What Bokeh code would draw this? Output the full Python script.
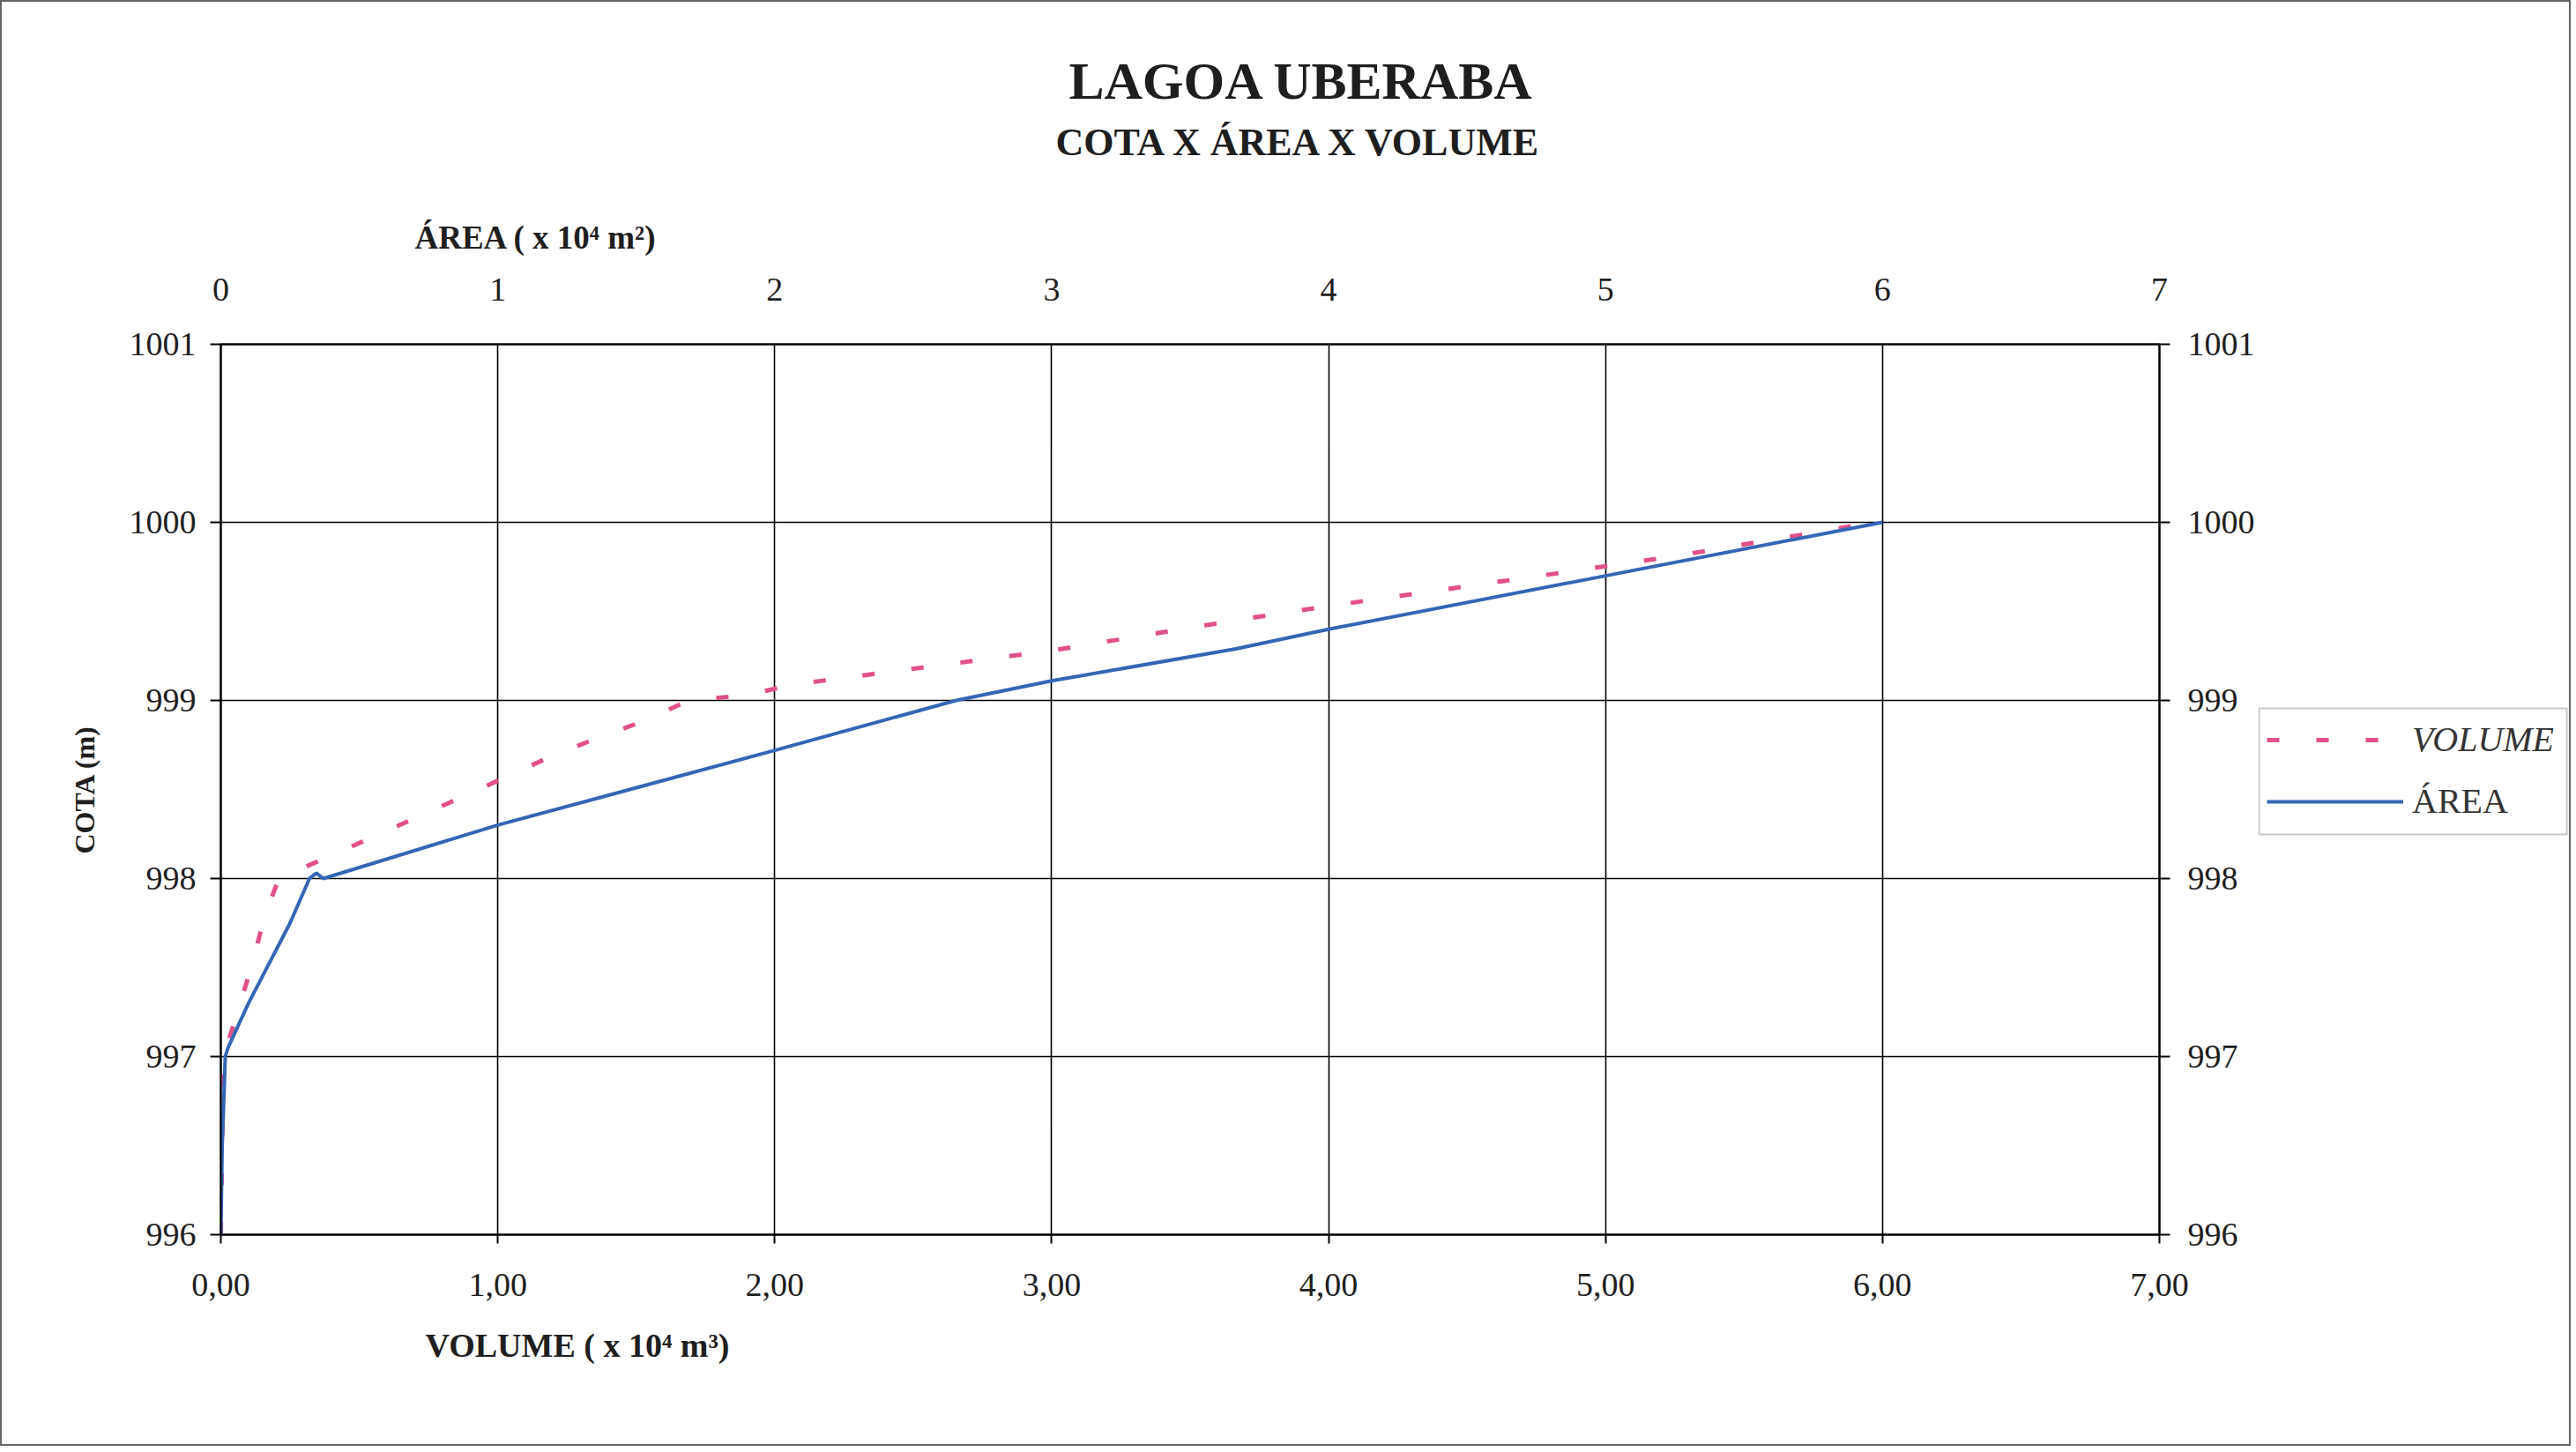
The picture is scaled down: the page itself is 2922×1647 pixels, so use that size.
from bokeh.plotting import figure
from bokeh.layouts import row
from bokeh.models import (LinearAxis, Legend, LegendItem, FixedTicker, Range1d, Title,
                          BoxAnnotation)
from bokeh.embed import file_html
from bokeh.resources import INLINE

# ---- data ----
# ÁREA curve (x 10^4 m²) vs COTA (m)
area = [0.0, 0.005, 0.016, 0.026, 0.10, 0.25, 0.32, 0.345, 0.37, 1.0, 1.43, 2.0, 2.655, 3.0, 3.665, 4.0, 5.0, 6.0]
cota_area = [996.0, 996.5, 997.0, 997.05, 997.3, 997.75, 998.0, 998.03, 998.0, 998.3, 998.48, 998.72, 999.0, 999.11, 999.29, 999.4, 999.7, 1000.0]

# VOLUME curve (x 10^4 m³) vs COTA (m)
volume = [0.0, 0.01, 0.05, 0.11, 0.16, 0.21, 0.53, 0.86, 1.17, 1.36, 1.52, 1.69, 1.9, 2.07, 2.61, 3.0, 3.665, 4.0, 4.72, 5.25, 5.97]
cota_vol = [996.0, 997.0, 997.2, 997.5, 997.8, 998.0, 998.22, 998.45, 998.67, 998.79, 998.88, 999.0, 999.03, 999.09, 999.2, 999.28, 999.45, 999.53, 999.69, 999.81, 1000.0]

x_ticks = [0, 1, 2, 3, 4, 5, 6, 7]
top_tick_labels = ["0", "1", "2", "3", "4", "5", "6", "7"]
bottom_tick_labels = ["0,00", "1,00", "2,00", "3,00", "4,00", "5,00", "6,00", "7,00"]
y_ticks = [996, 997, 998, 999, 1000, 1001]
y_tick_labels = ["996", "997", "998", "999", "1000", "1001"]

series_names = ["VOLUME", "ÁREA"]
title_text = "LAGOA UBERABA"
subtitle_text = "COTA X ÁREA X VOLUME"
top_label_text = "ÁREA ( x 10⁴ m²)"
bottom_label_text = "VOLUME  ( x 10⁴ m³)"
left_label_text = "COTA (m)"

SERIF = "Liberation Serif"
BLUE = "#3565b5"
PINK = "#e2508a"
TXT = "#1e1e1e"
VOL_STYLE = dict(line_color=PINK, line_width=5, line_dash="14 42")
AREA_STYLE = dict(line_color=BLUE, line_width=4)

H = 1636
W_MAIN = 2559
W_LEG = 353

p = figure(width=W_MAIN, height=H, output_backend="svg", toolbar_location=None,
           x_range=Range1d(0, 7), y_range=Range1d(996, 1001),
           min_border_left=248, min_border_top=388, min_border_right=112, min_border_bottom=238,
           x_axis_location=None, y_axis_location=None)
p.outline_line_color = "black"
p.outline_line_width = 2
p.background_fill_color = "white"
p.border_fill_color = "white"

# grid
p.xgrid.ticker = FixedTicker(ticks=x_ticks)
p.ygrid.ticker = FixedTicker(ticks=y_ticks)
for g in (p.xgrid, p.ygrid):
    g.grid_line_color = "black"
    g.grid_line_width = 1.6
    g.grid_line_alpha = 1.0


def style_axis(ax, overrides, tick_out, standoff):
    ax.major_label_overrides = overrides
    ax.axis_line_color = "black"
    ax.axis_line_width = 2
    ax.major_tick_line_color = "black"
    ax.major_tick_line_width = 2
    ax.major_tick_in = 0
    ax.major_tick_out = tick_out
    ax.minor_tick_line_color = None
    ax.major_label_text_font = SERIF
    ax.major_label_text_font_size = "38px"
    ax.major_label_text_color = TXT
    ax.major_label_standoff = standoff


bottom = LinearAxis(ticker=FixedTicker(ticks=x_ticks))
style_axis(bottom, {t: l for t, l in zip(x_ticks, bottom_tick_labels)}, 10, 34)
p.add_layout(bottom, "below")

top = LinearAxis(ticker=FixedTicker(ticks=x_ticks))
style_axis(top, {t: l for t, l in zip(x_ticks, top_tick_labels)}, 0, 50)
p.add_layout(top, "above")

left = LinearAxis(ticker=FixedTicker(ticks=y_ticks))
style_axis(left, {t: l for t, l in zip(y_ticks, y_tick_labels)}, 12, 16)
left.axis_label = left_label_text
left.axis_label_text_font = SERIF
left.axis_label_text_font_style = "bold"
left.axis_label_text_font_size = "32px"
left.axis_label_text_color = TXT
left.axis_label_standoff = 30
p.add_layout(left, "left")

right = LinearAxis(ticker=FixedTicker(ticks=y_ticks))
style_axis(right, {t: l for t, l in zip(y_ticks, y_tick_labels)}, 12, 20)
p.add_layout(right, "right")

# series
p.line(volume, cota_vol, **VOL_STYLE)
p.line(area, cota_area, **AREA_STYLE)

# texts in the side panels
p.add_layout(Title(text=bottom_label_text, align="left", offset=232, standoff=60,
                   text_font=SERIF, text_font_style="bold", text_font_size="38px", text_color=TXT), "below")
p.add_layout(Title(text=top_label_text, align="left", offset=220, standoff=45,
                   text_font=SERIF, text_font_style="bold", text_font_size="37px", text_color=TXT), "above")
p.add_layout(Title(text=subtitle_text, align="left", offset=947, standoff=77,
                   text_font=SERIF, text_font_style="bold", text_font_size="44px", text_color=TXT), "above")
p.add_layout(Title(text=title_text, align="left", offset=962, standoff=-57,
                   text_font=SERIF, text_font_style="bold", text_font_size="60px", text_color=TXT), "above")

# ---- legend panel (right margin of the chart); its frame is aligned with the main frame ----
X0 = 10  # legend panel x-range starts beyond the data, so its sample lines stay out of view
q = figure(width=W_LEG, height=H, output_backend="svg", toolbar_location=None,
           x_range=Range1d(X0, X0 + W_LEG), y_range=p.y_range, min_border=0,
           x_axis_location=None, y_axis_location=None)
q.grid.visible = False
q.outline_line_color = None
q.background_fill_color = "white"
q.border_fill_color = "white"
q_vol = q.line(volume, cota_vol, **VOL_STYLE)
q_area = q.line(area, cota_area, **AREA_STYLE)

q.add_layout(BoxAnnotation(left=X0 + 1, right=X0 + 350, bottom=998.248, top=998.955, fill_alpha=0,
                           line_color="#444444", line_width=2))


def make_legend(name, rend, y0, style):
    lg = Legend(items=[LegendItem(label=name, renderers=[rend])], location=(10, y0))
    lg.label_text_font = SERIF
    lg.label_text_font_size = "40px"
    lg.label_text_font_style = style
    lg.label_text_color = "#333333"
    lg.glyph_width = 155
    lg.glyph_height = 40
    lg.label_height = 40
    lg.label_standoff = 10
    lg.padding = 0
    lg.margin = 0
    lg.border_line_color = None
    lg.background_fill_alpha = 0
    return lg


q.add_layout(make_legend(series_names[0], q_vol, 538, "italic"), "center")
q.add_layout(make_legend(series_names[1], q_area, 468, "normal"), "center")

lay = row(p, q, spacing=0)
lay.styles = {"border": "2px solid #666666"}

open("out.html", "w").write(file_html(lay, INLINE))
